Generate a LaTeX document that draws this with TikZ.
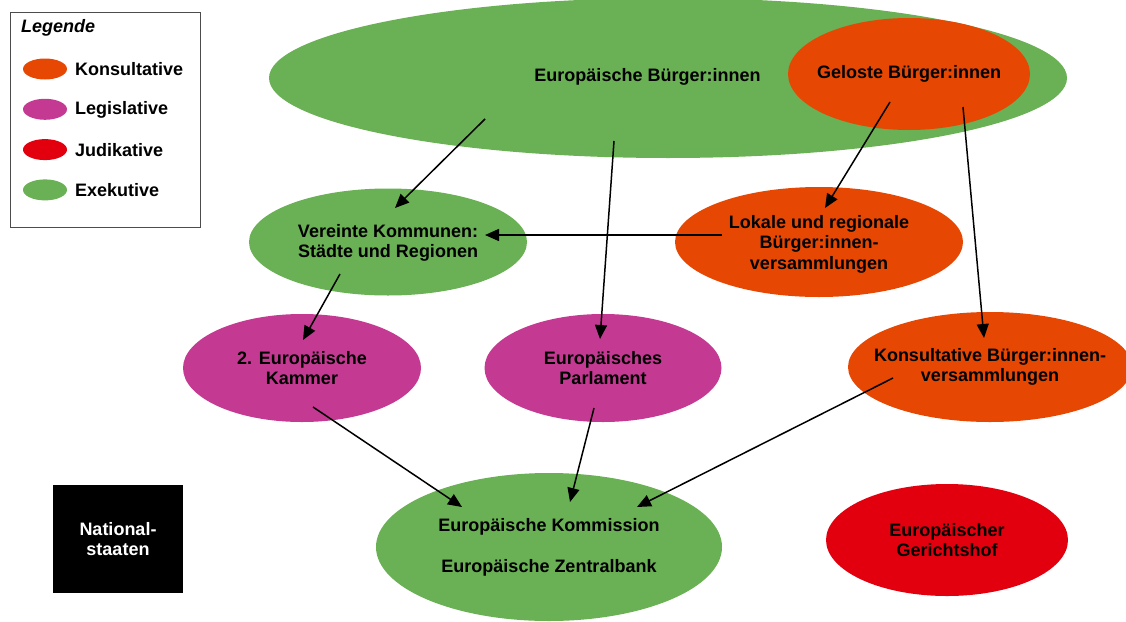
\documentclass[tikz,border=0pt]{standalone}
\usepackage{fontspec}
\setmainfont{Liberation Sans}
\usetikzlibrary{shapes.geometric,arrows.meta}

\definecolor{exek}{RGB}{106,176,84}
\definecolor{kons}{RGB}{230,72,4}
\definecolor{legis}{RGB}{196,58,146}
\definecolor{judi}{RGB}{226,0,14}

\begin{document}
\begin{tikzpicture}[x=1pt,y=-1pt]
	\tikzstyle{every node}=[font=\fontsize{18}{20.5}\selectfont\bfseries]
	\tikzstyle{every label}=[align=center,inner sep=0pt]
	\tikzstyle{bubble}=[ellipse,inner sep=0pt]
	\tikzstyle{pfeil}=[line width=1.5pt,-{Triangle[length=14pt,width=12pt]}]

	\useasboundingbox (0,0) rectangle (1126,621);

	%% Legende
	\node[draw=black!70,line width=0.8pt,minimum width=190pt,minimum height=215pt,inner sep=0pt] (legende) at (105,119.5) {};
	\node[anchor=west,inner sep=0pt,font=\fontsize{18}{20.5}\selectfont\bfseries\itshape] (legtitel) at (21,28) {Legende};
	\foreach \farbe/\name [count=\i] in {kons/Konsultative,legis/Legislative,judi/Judikative,exek/Exekutive}
	{
		\node[bubble,fill=\farbe,minimum width=44pt,minimum height=21pt] (leg\i) at (45,{69+40.3*(\i-1)}) {};
		\node[anchor=west,inner sep=0pt] (legtext\i) at (75,{69.5+40.3*(\i-1)}) {\name};
	}

	%% Ellipsen
	\node[bubble,fill=exek,minimum width=798pt,minimum height=160pt,
		label={[xshift=-20.5pt,yshift=1pt]center:Europäische Bürger:innen}] (buerger) at (668,78) {};
	\node[bubble,fill=kons,minimum width=242pt,minimum height=112pt,
		label={center:Geloste Bürger:innen}] (gelost) at (909,74) {};

	\node[bubble,fill=exek,minimum width=278pt,minimum height=107pt,
		label={[yshift=-1pt]center:Vereinte Kommunen:\\Städte und Regionen}] (kommunen) at (388,242) {};
	\node[bubble,fill=kons,minimum width=288pt,minimum height=110pt,
		label={[yshift=-2pt]center:Lokale und regionale\\Bürger:innen-\\versammlungen}] (lokal) at (819,242) {};

	\node[bubble,fill=legis,minimum width=238pt,minimum height=108pt,
		label={center:2. Europäische\\Kammer}] (kammer) at (302,368) {};
	\node[bubble,fill=legis,minimum width=237pt,minimum height=108pt,
		label={center:Europäisches\\Parlament}] (parlament) at (603,368) {};
	\node[bubble,fill=kons,minimum width=284pt,minimum height=110pt,
		label={center:Konsultative Bürger:innen-\\versammlungen}] (konsult) at (990,367) {};

	\node[bubble,fill=exek,minimum width=346pt,minimum height=148pt,
		label={center:Europäische Kommission\\[20.5pt]Europäische Zentralbank}] (kommission) at (549,547) {};
	\node[bubble,fill=judi,minimum width=242pt,minimum height=112pt,
		label={center:Europäischer\\Gerichtshof}] (gericht) at (947,540) {};

	\node[fill=black,text=white,align=center,minimum width=130pt,minimum height=108pt,inner sep=0pt] (national) at (118,539) {National-\\staaten};

	%% Pfeile
	\draw[pfeil] ([shift={(-183,41)}]buerger.center) -- ([shift={(7,-34)}]kommunen.center);
	\draw[pfeil] ([shift={(-54,63)}]buerger.center) -- ([shift={(-3,-29)}]parlament.center);
	\draw[pfeil] ([shift={(-19,28)}]gelost.center) -- ([shift={(6,-34)}]lokal.center);
	\draw[pfeil] ([shift={(54,33)}]gelost.center) -- ([shift={(-6,-29)}]konsult.center);
	\draw[pfeil] ([shift={(-97,-7)}]lokal.center) -- ([shift={(97,-7)}]kommunen.center);
	\draw[pfeil] ([shift={(-48,32)}]kommunen.center) -- ([shift={(1,-28)}]kammer.center);
	\draw[pfeil] ([shift={(11,39)}]kammer.center) -- ([shift={(-87,-40)}]kommission.center);
	\draw[pfeil] ([shift={(-9,40)}]parlament.center) -- ([shift={(21,-45)}]kommission.center);
	\draw[pfeil] ([shift={(-97,11)}]konsult.center) -- ([shift={(88,-40)}]kommission.center);
\end{tikzpicture}
\end{document}
